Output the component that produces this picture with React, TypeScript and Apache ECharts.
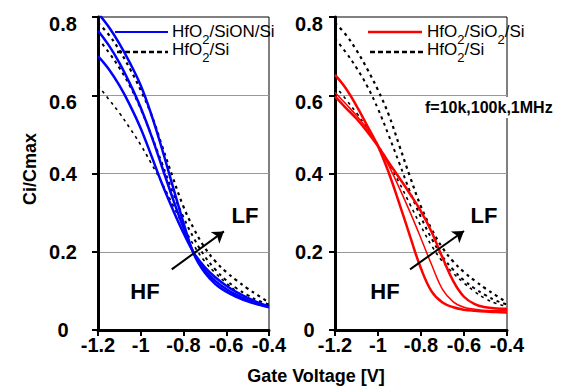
import React, { useEffect, useRef } from "react";
import * as echarts from "echarts";

const FONT = "'Liberation Sans', Arial, sans-serif";

// gate voltage sample points [V]
const voltages = [-1.2, -1.15, -1.1, -1.05, -1.0, -0.95, -0.9, -0.85, -0.8, -0.75, -0.7, -0.65, -0.6, -0.55, -0.5, -0.45, -0.4];

// HfO2/SiON/Si (blue), three frequencies
const sionA = [0.81, 0.775, 0.732, 0.682, 0.625, 0.55, 0.462, 0.367, 0.274, 0.192, 0.146, 0.117, 0.098, 0.084, 0.073, 0.065, 0.058];
const sionB = [0.765, 0.728, 0.683, 0.629, 0.568, 0.496, 0.416, 0.336, 0.261, 0.194, 0.152, 0.125, 0.105, 0.089, 0.076, 0.066, 0.059];
const sionC = [0.70, 0.667, 0.625, 0.574, 0.515, 0.445, 0.373, 0.308, 0.248, 0.196, 0.16, 0.134, 0.113, 0.096, 0.082, 0.07, 0.06];

// HfO2/Si (black dotted), three frequencies
const siA = [0.785, 0.755, 0.715, 0.667, 0.613, 0.55, 0.47, 0.39, 0.315, 0.257, 0.21, 0.175, 0.148, 0.126, 0.106, 0.088, 0.07];
const siB = [0.745, 0.71, 0.67, 0.623, 0.565, 0.497, 0.425, 0.352, 0.288, 0.233, 0.188, 0.154, 0.127, 0.106, 0.089, 0.075, 0.065];
const siC = [0.625, 0.59, 0.555, 0.515, 0.473, 0.425, 0.375, 0.32, 0.265, 0.215, 0.175, 0.145, 0.12, 0.098, 0.08, 0.068, 0.06];

// HfO2/SiO2/Si (red), three frequencies
const sio2HF = [0.652, 0.618, 0.573, 0.522, 0.47, 0.402, 0.322, 0.238, 0.157, 0.098, 0.07, 0.058, 0.052, 0.049, 0.047, 0.046, 0.045];
const sio2Mid = [0.607, 0.578, 0.548, 0.514, 0.472, 0.42, 0.362, 0.3, 0.234, 0.166, 0.104, 0.072, 0.058, 0.053, 0.05, 0.049, 0.049];
const sio2LF = [0.597, 0.568, 0.54, 0.507, 0.47, 0.428, 0.388, 0.347, 0.303, 0.25, 0.185, 0.125, 0.085, 0.066, 0.058, 0.055, 0.054];

// HF -> LF arrows (data coordinates)
const arrowLeft = [[-0.855, 0.155], [-0.611, 0.252]];
const arrowRight = [[-0.851, 0.155], [-0.6, 0.253]];

const xTicks = { min: -1.2, max: -0.4, interval: 0.2 };
const yTicks = { min: 0, max: 0.8, interval: 0.2 };

const pair = (vals: number[]) => voltages.map((v, i) => [v, vals[i]]);
const fmt = (v: number) => String(Math.round(v * 10) / 10);

const tickText = { fontSize: 20, fontWeight: "bold", color: "#000", fontFamily: FONT, lineHeight: 14 };

function xAxis(gridIndex: number) {
  return {
    type: "value",
    gridIndex,
    ...xTicks,
    axisLine: { show: true, onZero: false, lineStyle: { color: "#000", width: 3 } },
    axisTick: { show: true, length: 6, lineStyle: { color: "#000", width: 2 } },
    axisLabel: { margin: 8, ...tickText, formatter: fmt },
    splitLine: { show: false },
  };
}

function yAxis(gridIndex: number, margin: number) {
  return {
    type: "value",
    gridIndex,
    ...yTicks,
    axisLine: { show: true, onZero: false, lineStyle: { color: "#000", width: 3 } },
    axisTick: { show: true, length: 6, lineStyle: { color: "#000", width: 2 } },
    axisLabel: {
      margin,
      align: "center",
      ...tickText,
      formatter: (v: number) => (v > 0.55 ? `{low|${fmt(v)}}` : `{n|${fmt(v)}}`),
      rich: {
        n: { ...tickText },
        low: { ...tickText, padding: [14, 0, 0, 0] },
      },
    },
    splitLine: { show: true, showMinLine: false, showMaxLine: false, lineStyle: { color: "#999", width: 1 } },
  };
}

function curve(vals: number[], idx: number, color: string, width: number, dotted = false, extra: any = {}) {
  return {
    type: "line",
    xAxisIndex: idx,
    yAxisIndex: idx,
    data: pair(vals),
    symbol: "none",
    showSymbol: false,
    smooth: 0.4,
    clip: true,
    silent: true,
    lineStyle: { color, width, type: dotted ? [3, 4] : "solid", cap: "butt" },
    z: dotted ? 2 : 3,
    ...extra,
  };
}

function arrow(coords: number[][]) {
  return {
    silent: true,
    symbol: ["none", "arrow"],
    symbolSize: 11,
    label: { show: false },
    lineStyle: { color: "#000", width: 2, type: "solid" },
    data: [[{ coord: coords[0] }, { coord: coords[1] }]],
  };
}

const legendRich = {
  m: { fontSize: 17, lineHeight: 17, verticalAlign: "top", fontFamily: FONT, color: "#000" },
  s: { fontSize: 13, lineHeight: 13, padding: [10, 0, 0, 0], verticalAlign: "top", fontFamily: FONT, color: "#000" },
};

function legendText(x: number, y: number, text: string) {
  return { type: "text", x, y, z: 100, style: { text, rich: legendRich, fill: "#000", align: "left", verticalAlign: "top" } };
}

function boldText(x: number, y: number, text: string, size: number, rotation = 0) {
  return {
    type: "text", x, y, rotation, z: 100,
    style: { text, fontSize: size, fontWeight: "bold", fontFamily: FONT, fill: "#000", align: "center", verticalAlign: "middle" },
  };
}

export default function App() {
  const ref = useRef<HTMLDivElement>(null);
  useEffect(() => {
    const chart = echarts.init(ref.current!, null, { renderer: "svg" });
    chart.setOption({
      animation: false,
      backgroundColor: "#fff",
      grid: [
        { left: 98, top: 16, width: 171, height: 314, show: true, borderColor: "#000", borderWidth: 1, backgroundColor: "transparent" },
        { left: 335, top: 16, width: 172, height: 314, show: true, borderColor: "#000", borderWidth: 1, backgroundColor: "transparent" },
      ],
      xAxis: [xAxis(0), xAxis(1)],
      yAxis: [yAxis(0, 35), yAxis(1, 26)],
      series: [
        curve(siA, 0, "#000", 2.2, true),
        curve(siB, 0, "#000", 2, true),
        curve(siC, 0, "#000", 1.6, true),
        curve(sionA, 0, "#0000ff", 2.5),
        curve(sionB, 0, "#0000ff", 2.5),
        curve(sionC, 0, "#0000ff", 2.5, false, { markLine: arrow(arrowLeft) }),
        curve(siA, 1, "#000", 2.2, true),
        curve(siB, 1, "#000", 2, true),
        curve(siC, 1, "#000", 1.6, true),
        curve(sio2HF, 1, "#ff0000", 2.5),
        curve(sio2Mid, 1, "#ff0000", 1.5),
        curve(sio2LF, 1, "#ff0000", 2.5, false, { markLine: arrow(arrowRight) }),
      ],
      graphic: [
        // left legend
        { type: "line", z: 100, shape: { x1: 115, y1: 32, x2: 168, y2: 32 }, style: { stroke: "#0000ff", lineWidth: 2 } },
        legendText(172, 23, "{m|HfO}{s|2}{m|/SiON/Si}"),
        { type: "line", z: 100, shape: { x1: 117, y1: 52, x2: 168, y2: 52 }, style: { stroke: "#000", lineWidth: 2.5, lineDash: [5, 3] } },
        legendText(172, 41, "{m|HfO}{s|2}{m|/Si}"),
        // right legend
        { type: "line", z: 100, shape: { x1: 368, y1: 32, x2: 422, y2: 32 }, style: { stroke: "#ff0000", lineWidth: 2.5 } },
        legendText(427, 23, "{m|HfO}{s|2}{m|/SiO}{s|2}{m|/Si}"),
        { type: "line", z: 100, shape: { x1: 370, y1: 52, x2: 423, y2: 52 }, style: { stroke: "#000", lineWidth: 2.5, lineDash: [5, 3] } },
        legendText(427, 41, "{m|HfO}{s|2}{m|/Si}"),
        // frequency note
        { type: "rect", z: 90, shape: { x: 418, y: 97, width: 145, height: 21 }, style: { fill: "#fff" } },
        { type: "text", x: 425, y: 107, z: 100, style: { text: "f=10k,100k,1MHz", fontSize: 16, fontWeight: "bold", fontFamily: FONT, fill: "#000", align: "left", verticalAlign: "middle" } },
        // HF / LF labels
        boldText(245, 215, "LF", 22),
        boldText(145, 291, "HF", 22),
        boldText(484, 215, "LF", 22),
        boldText(385, 291, "HF", 22),
        // axis titles
        boldText(316, 376, "Gate Voltage [V]", 18),
        boldText(30, 169, "Ci/Cmax", 18, Math.PI / 2),
      ],
    });
    return () => chart.dispose();
  }, []);
  return <div ref={ref} style={{ position: "fixed", left: 0, top: 0, width: 576, height: 387, background: "#fff" }} />;
}
